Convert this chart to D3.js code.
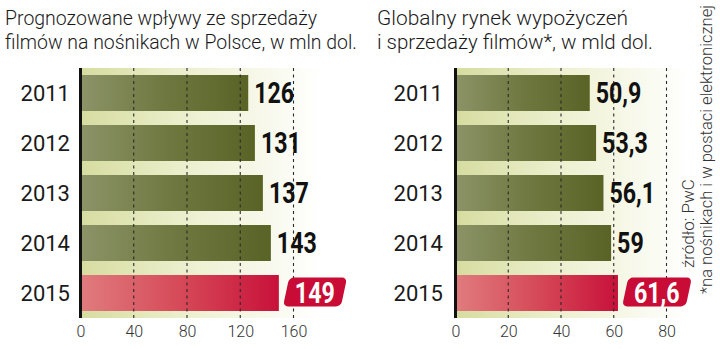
<!DOCTYPE html>
<html><head><meta charset="utf-8">
<script src="https://cdn.jsdelivr.net/npm/d3@7/dist/d3.min.js"></script>
<style>
html,body{margin:0;padding:0;background:#fff;}
svg{display:block;}
</style></head>
<body>
<svg id="c" width="720" height="349"></svg>
<script>
const years = ["2011","2012","2013","2014","2015"];
const polandValues = [126,131,137,143,149];
const polandLabels = ["126","131","137","143","149"];
const globalValues = [50.9,53.3,56.1,59,61.6];
const globalLabels = ["50,9","53,3","56,1","59","61,6"];
const polandTicks = [0,40,80,120,160];
const globalTicks = [0,20,40,60,80];
const polandTitle = ["Prognozowane wpływy ze sprzedaży","filmów na nośnikach w Polsce, w mln dol."];
const globalTitle = ["Globalny rynek wypożyczeń","i sprzedaży filmów*, w mld dol."];
const sourceNote = "źródło: PwC";
const footNote = "*na nośnikach i w postaci elektronicznej";

const svg = d3.select("#c");
const defs = svg.append("defs");
function lin(id, stops){
  const g = defs.append("linearGradient").attr("id", id).attr("x1","0").attr("x2","1").attr("y1","0").attr("y2","0");
  stops.forEach(s=>g.append("stop").attr("offset",s[0]).attr("stop-color",s[1]));
}
lin("gBar", [[0,"#8c9468"],[0.5,"#6f7840"],[1,"#5a6326"]]);
lin("gRed", [[0,"#e07c7e"],[0.5,"#d64a58"],[1,"#c8113a"]]);
lin("gBg", [[0,"#d6dca0"],[0.45,"#edf0cf"],[1,"#ffffff"]]);

const TOP = 68, BOTTOM = 318;
const SX = 0.8;
const y = d3.scaleBand().domain(years).range([TOP, BOTTOM]).paddingInner(0.28).paddingOuter(0.14);

function condensed(g, x, yy, txt, fill){
  return g.append("text").attr("transform", `translate(${x},${yy}) scale(${SX},1)`)
    .attr("font-family","Roboto, sans-serif").attr("font-weight",700)
    .attr("font-size",29).attr("fill",fill).text(txt);
}

function panel(opt){
  const g = svg.append("g");
  const x = d3.scaleLinear().domain([0, opt.max]).range([opt.x0, opt.x1]);
  opt.title.forEach((t,i)=>{
    g.append("text").attr("x", opt.tx).attr("y", 25 + i*24)
      .attr("font-family","Roboto, 'Open Sans', sans-serif").attr("font-weight",300)
      .attr("font-size",21).attr("fill","#1a1a1a")
      .attr("textLength", opt.tw[i]).attr("lengthAdjust","spacingAndGlyphs")
      .text(t);
  });
  g.append("rect").attr("x", x(0)).attr("y", TOP)
    .attr("width", x(opt.bgMax) - x(0)).attr("height", BOTTOM - TOP)
    .attr("fill","url(#gBg)");
  g.selectAll("rect.bar").data(years).join("rect").attr("class","bar")
    .attr("x", x(0)).attr("y", d=>y(d))
    .attr("width", (d,i)=>x(opt.values[i]) - x(0))
    .attr("height", y.bandwidth())
    .attr("fill", (d,i)=> i===years.length-1 ? "url(#gRed)" : "url(#gBar)");
  g.selectAll("line.grid").data(opt.ticks.slice(1)).join("line").attr("class","grid")
    .attr("x1", d=>x(d)).attr("x2", d=>x(d)).attr("y1", TOP).attr("y2", BOTTOM)
    .attr("stroke","#2a2a2a").attr("stroke-width",1.1).attr("stroke-dasharray","3,3.5");
  g.append("line").attr("x1", x(0)).attr("x2", x(0)).attr("y1", TOP).attr("y2", BOTTOM)
    .attr("stroke","#111").attr("stroke-width",3);
  g.selectAll("text.year").data(years).join("text").attr("class","year")
    .attr("x", opt.yearX).attr("y", d=>y(d)+y.bandwidth()/2+8)
    .attr("text-anchor","end").attr("font-family","Roboto, sans-serif")
    .attr("font-size",22).attr("fill","#1a1a1a").text(d=>d);
  years.forEach((yr,i)=>{
    const last = i===years.length-1;
    const vx = x(opt.values[i]) + (last ? 7 : 6);
    const cy = y(yr) + y.bandwidth()/2;
    if(last){
      const t = condensed(g, vx + 9, cy + 10, opt.labels[i], "#fff");
      const w = t.node().getComputedTextLength() * SX;
      const bw = w + 18, bh = 29;
      g.insert("rect", function(){return t.node();})
        .attr("x", vx).attr("y", cy - bh/2 - 1).attr("width", bw).attr("height", bh)
        .attr("rx",5).attr("fill","#c90c36")
        .attr("transform", `translate(${vx + bw/2},${cy}) skewX(-12) translate(${-(vx + bw/2)},${-cy})`);
    } else {
      condensed(g, vx, cy + 10, opt.labels[i], "#111");
    }
  });
  const ax = g.append("g").attr("transform", `translate(0,${BOTTOM})`)
    .call(d3.axisBottom(x).tickValues(opt.ticks).tickSize(0).tickPadding(5).tickFormat(d3.format("d")));
  ax.select(".domain").remove();
  ax.selectAll("text").attr("font-family","Roboto, sans-serif").attr("font-weight",300)
    .attr("font-size",16).attr("fill","#333").attr("dy","0.9em");
}

panel({values: polandValues, labels: polandLabels, ticks: polandTicks, title: polandTitle,
  max: 160, x0: 80.5, x1: 293.5, bgMax: 180, tx: 5, tw: [312, 352], yearX: 70});
panel({values: globalValues, labels: globalLabels, ticks: globalTicks, title: globalTitle,
  max: 80, x0: 455.5, x1: 666.5, bgMax: 88, tx: 377, tw: [251, 276], yearX: 443});

svg.append("text").attr("transform","translate(694,268) rotate(-90)")
  .attr("font-family","Roboto, sans-serif").attr("font-weight",300).attr("font-size",17)
  .attr("fill","#333").text(sourceNote);
svg.append("text").attr("transform","translate(712,294) rotate(-90)")
  .attr("font-family","Roboto, sans-serif").attr("font-weight",300).attr("font-size",16.5)
  .attr("fill","#333").attr("textLength",289).attr("lengthAdjust","spacingAndGlyphs").text(footNote);
</script>
</body></html>
